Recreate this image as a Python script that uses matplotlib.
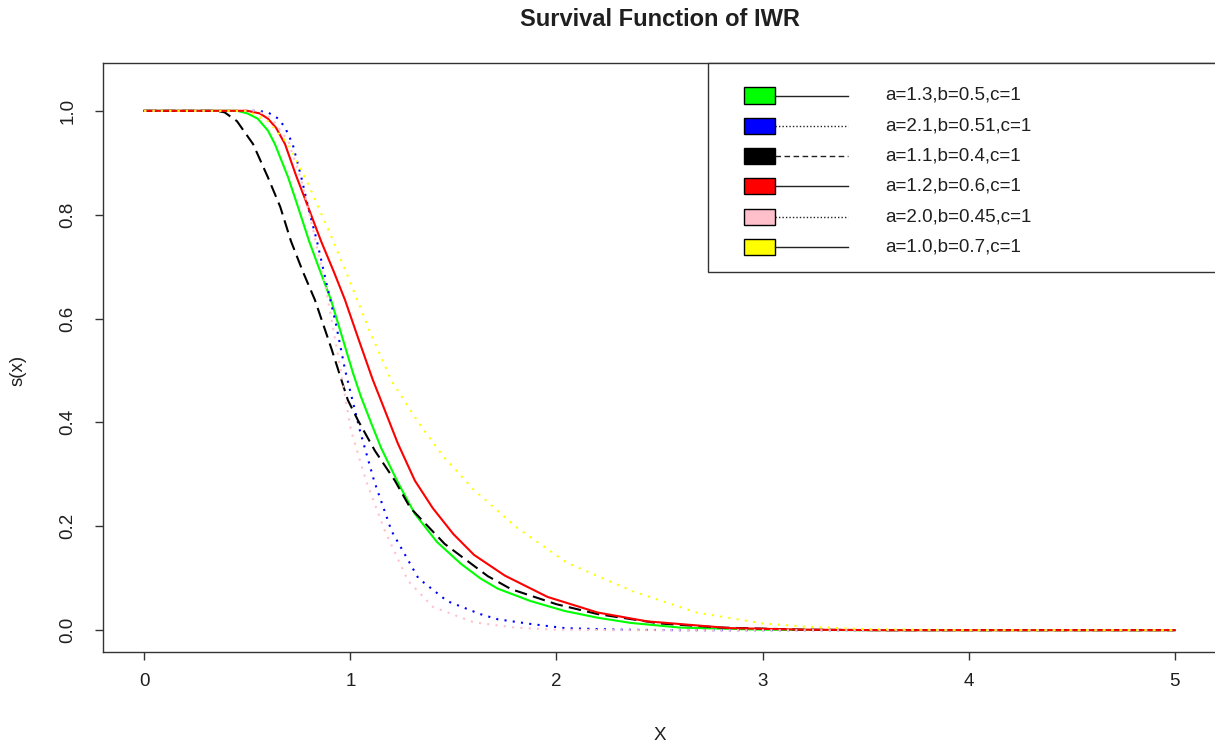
import matplotlib
matplotlib.use("Agg")
import matplotlib.pyplot as plt
from matplotlib.patches import Rectangle
from matplotlib.lines import Line2D

plt.rcParams['font.family'] = ['Liberation Sans', 'DejaVu Sans']

# Survival curves s(x) of the IWR distribution for six parameter sets
labels = ["a=1.3,b=0.5,c=1", "a=2.1,b=0.51,c=1", "a=1.1,b=0.4,c=1",
          "a=1.2,b=0.6,c=1", "a=2.0,b=0.45,c=1", "a=1.0,b=0.7,c=1"]
colors = ["#00FF00", "#0000FF", "#000000", "#FF0000", "#FFC0CB", "#FFFF00"]

green_x = [0, 0.45, 0.50, 0.55, 0.60, 0.634, 0.698, 0.746, 0.80, 0.85, 0.906, 0.96,
           1.013, 1.051, 1.10, 1.148, 1.23, 1.313, 1.42, 1.536, 1.63, 1.715, 1.875,
           2.04, 2.2, 2.36, 2.6, 3.0, 3.5, 5.0]
green_y = [1, 1.0, 0.995, 0.985, 0.962, 0.936, 0.872, 0.815, 0.749, 0.695, 0.636, 0.565,
           0.495, 0.45, 0.40, 0.352, 0.285, 0.224, 0.17, 0.128, 0.10, 0.08, 0.056,
           0.037, 0.024, 0.014, 0.005, 0.001, 0.0, 0.0]

blue_x = [0, 0.55, 0.60, 0.65, 0.683, 0.72, 0.762, 0.80, 0.838, 0.88, 0.93, 0.975,
          1.046, 1.115, 1.20, 1.33, 1.47, 1.63, 1.715, 1.875, 2.04, 2.3, 2.6, 5.0]
blue_y = [1, 1.0, 0.997, 0.985, 0.968, 0.936, 0.872, 0.807, 0.749, 0.675, 0.59, 0.50,
          0.385, 0.288, 0.191, 0.100, 0.056, 0.031, 0.021, 0.012, 0.004, 0.001, 0.0, 0.0]

black_x = [0, 0.35, 0.39, 0.45, 0.528, 0.60, 0.66, 0.712, 0.77, 0.828, 0.91, 0.988,
           1.037, 1.12, 1.216, 1.29, 1.458, 1.667, 1.78, 2.0, 2.2, 2.5, 2.8, 3.2, 3.6, 5.0]
black_y = [1, 1.0, 0.997, 0.98, 0.936, 0.872, 0.815, 0.749, 0.69, 0.636, 0.54, 0.443,
           0.404, 0.345, 0.288, 0.236, 0.166, 0.104, 0.079, 0.050, 0.031, 0.013, 0.005,
           0.001, 0.0, 0.0]

red_x = [0, 0.5, 0.56, 0.60, 0.64, 0.683, 0.737, 0.795, 0.858, 0.92, 0.974, 1.04,
         1.109, 1.148, 1.23, 1.313, 1.40, 1.50, 1.60, 1.75, 1.957, 2.2, 2.44, 2.84,
         3.2, 3.6, 5.0]
red_y = [1, 1.0, 0.995, 0.985, 0.967, 0.936, 0.875, 0.815, 0.749, 0.69, 0.636, 0.56,
         0.482, 0.443, 0.36, 0.288, 0.235, 0.185, 0.145, 0.105, 0.064, 0.034, 0.017,
         0.004, 0.001, 0.0, 0.0]

pink_x = [0, 0.55, 0.62, 0.70, 0.76, 0.82, 0.88, 0.94, 1.003, 1.076, 1.168, 1.28,
          1.40, 1.60, 1.80, 2.0, 2.3, 5.0]
pink_y = [1, 1.0, 0.985, 0.94, 0.87, 0.77, 0.66, 0.53, 0.385, 0.288, 0.191, 0.095,
          0.045, 0.015, 0.005, 0.001, 0.0, 0.0]

yellow_x = [0, 0.5, 0.6, 0.7, 0.8, 0.9, 0.988, 1.1, 1.2, 1.33, 1.45, 1.6, 1.8, 2.05,
            2.37, 2.68, 3.0, 3.2, 3.5, 4.0, 5.0]
yellow_y = [1, 1.0, 0.98, 0.935, 0.855, 0.765, 0.681, 0.57, 0.48, 0.40, 0.335, 0.27,
            0.20, 0.13, 0.075, 0.034, 0.013, 0.007, 0.002, 0.0, 0.0]

x_ticks = [0, 1, 2, 3, 4, 5]
y_ticks = [0.0, 0.2, 0.4, 0.6, 0.8, 1.0]
y_tick_labels = ["0.0", "0.2", "0.4", "0.6", "0.8", "1.0"]

series = [(green_x, green_y), (blue_x, blue_y), (black_x, black_y),
          (red_x, red_y), (pink_x, pink_y), (yellow_x, yellow_y)]
curve_styles = ["solid", (0, (1, 3)), (0, (6, 3)), "solid", (0, (1, 3)), (0, (1, 3))]
legend_styles = ["solid", (0, (1, 1.5)), (0, (4, 2.5)), "solid", (0, (1, 1.5)), "solid"]

W, H = 1215, 749
fig = plt.figure(figsize=(W / 100, H / 100), dpi=100)
fig.patch.set_facecolor("white")

left, right, top, bottom = 103, 1216, 63, 652
ax = fig.add_axes([left / W, 1 - bottom / H, (right - left) / W, (bottom - top) / H])
ax.set_xlim(-0.2, 5.2)
ax.set_ylim(-0.042, 1.092)

for (xs, ys), col, ls in zip(series, colors, curve_styles):
    ax.plot(xs, ys, color=col, linestyle=ls, linewidth=1.5)

text_col = "#1f1f1f"
ax.set_xticks(x_ticks)
ax.set_xticklabels([str(t) for t in x_ticks])
ax.set_yticks(y_ticks)
ax.set_yticklabels(y_tick_labels)
ax.tick_params(axis="both", direction="out", length=6, width=1,
               colors="#333333", labelcolor=text_col, labelsize=13.5)
ax.tick_params(axis="x", pad=9)
ax.tick_params(axis="y", pad=13)
plt.setp(ax.get_yticklabels(), rotation=90, va="center")
for s in ax.spines.values():
    s.set_color("#333333")
    s.set_linewidth(1.0)

# legend box in the top-right corner
lx0 = (708 - left) / (right - left)
ly0 = (bottom - 272) / (bottom - top)
ax.add_patch(Rectangle((lx0, ly0), 1.0 - lx0, 1.0 - ly0, transform=ax.transAxes,
                       facecolor="white", edgecolor="#333333", linewidth=1.0,
                       zorder=5, clip_on=False))
box_x0 = (744 - left) / (right - left)
box_w = 31 / (right - left)
box_h = 16 / (bottom - top)
line_x0 = (775 - left) / (right - left)
line_x1 = (848 - left) / (right - left)
text_x = (885 - left) / (right - left)
for i, (lab, col, ls) in enumerate(zip(labels, colors, legend_styles)):
    yc = (bottom - (95.5 + 30.3 * i)) / (bottom - top)
    ax.add_patch(Rectangle((box_x0, yc - box_h / 2), box_w, box_h, transform=ax.transAxes,
                           facecolor=col, edgecolor="black", linewidth=1.0, zorder=6))
    ax.add_line(Line2D([line_x0, line_x1], [yc, yc], transform=ax.transAxes,
                       color="#222222", linestyle=ls, linewidth=1.0, zorder=6))
    ax.text(text_x, yc, lab, transform=ax.transAxes, ha="left", va="center",
            fontsize=13.5, color=text_col, zorder=7)

fig.text(660 / W, 1 - 20 / H, "Survival Function of IWR", ha="center", va="center",
         fontsize=17, fontweight="bold", color=text_col)
fig.text(660 / W, 1 - 735 / H, "X", ha="center", va="center", fontsize=13.5,
         color=text_col)
fig.text(18 / W, 1 - 370 / H, "s(x)", ha="center", va="center", rotation=90,
         fontsize=13.5, color=text_col)

fig.savefig("out.png", dpi=100)
